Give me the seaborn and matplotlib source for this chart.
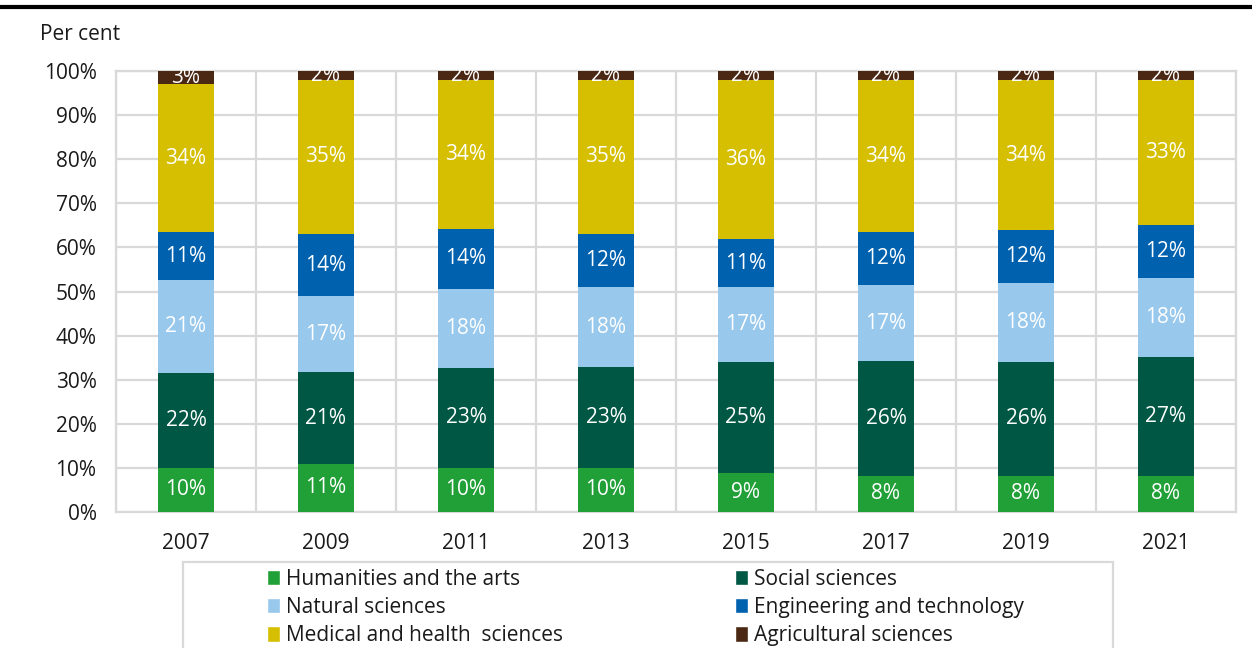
import numpy as np
import pandas as pd
import seaborn as sns
import matplotlib.pyplot as plt
from matplotlib.lines import Line2D
from matplotlib.patches import Rectangle, Patch

years = ["2007", "2009", "2011", "2013", "2015", "2017", "2019", "2021"]

fields = [
    "Humanities and the arts",
    "Social sciences",
    "Natural sciences",
    "Engineering and technology",
    "Medical and health  sciences",
    "Agricultural sciences",
]

# shares in per cent
humanities = [10.0, 10.9, 10.0, 10.0, 8.8, 8.2, 8.2, 8.2]
social = [21.6, 20.8, 22.7, 22.9, 25.2, 26.0, 25.8, 26.9]
natural = [20.9, 17.3, 17.9, 18.1, 17.0, 17.3, 17.9, 18.0]
engineering = [10.9, 14.0, 13.6, 12.0, 10.9, 12.0, 12.0, 12.0]
medical = [33.6, 35.0, 33.8, 35.0, 36.1, 34.4, 34.1, 32.9]
agricultural = [3.0, 2.0, 2.0, 2.0, 2.0, 2.1, 2.0, 2.0]

colors = ["#21a038", "#005743", "#98c8ec", "#0061af", "#d6bf00", "#4a2814"]

series = [humanities, social, natural, engineering, medical, agricultural]

sns.set_style("white")
plt.rcParams["font.family"] = ["Open Sans", "DejaVu Sans"]
text_col = "#1a1a1a"
grid_col = "#d9d9d9"
fs = 15

fig = plt.figure(figsize=(12.52, 6.48), dpi=100)
ax = fig.add_axes([116 / 1252, 1 - 512 / 648, (1236 - 116) / 1252, (512 - 71) / 648])

bottom = np.zeros(len(years))
for name, vals, col in zip(fields, series, colors):
    vals = np.array(vals) / 100
    sns.barplot(x=years, y=vals, bottom=bottom, color=col, width=0.4,
                saturation=1, ax=ax, zorder=3, linewidth=0)
    for i, v in enumerate(vals):
        ax.text(i, bottom[i] + v / 2, f"{round(v * 100)}%", ha="center", va="center",
                color="white", fontsize=fs, zorder=4)
    bottom += vals

ax.set_ylim(0, 1)
ax.set_xlim(-0.5, len(years) - 0.5)
ax.set_yticks(np.arange(0, 1.01, 0.1))
ax.set_yticklabels([f"{int(t * 100)}%" for t in np.arange(0, 1.01, 0.1)])
ax.set_xticks(np.arange(-0.5, len(years), 1), minor=True)
ax.grid(axis="y", which="major", color=grid_col, linewidth=1.6, zorder=0)
ax.grid(axis="x", which="minor", color=grid_col, linewidth=1.6, zorder=0)
ax.grid(axis="x", which="major", visible=False)
ax.tick_params(axis="both", which="both", length=0, labelsize=fs, colors=text_col)
ax.tick_params(axis="y", pad=14)
ax.tick_params(axis="x", pad=15)
for s in ax.spines.values():
    s.set_color(grid_col)
    s.set_linewidth(1.6)
ax.set_xlabel("")
ax.set_ylabel("")

# top rule and unit label
fig.add_artist(Line2D([0, 1], [1 - 7 / 648, 1 - 7 / 648], color="black", linewidth=3))
fig.text(40 / 1252, 1 - 35 / 648, "Per cent", fontsize=fs, color=text_col, va="center")

# legend box
fig.add_artist(Rectangle((183 / 1252, -0.01), (1113 - 183) / 1252, (1 - 562 / 648) + 0.01,
                         transform=fig.transFigure, facecolor="white",
                         edgecolor=grid_col, linewidth=1.6))
handles = [Patch(facecolor=c, label=f) for f, c in zip(fields, colors)]
for hs, x0 in [([handles[0], handles[2], handles[4]], 252), ([handles[1], handles[3], handles[5]], 720)]:
    fig.legend(handles=hs, loc="upper left", bbox_to_anchor=(x0 / 1252, 1 - 554 / 648),
               frameon=False, fontsize=fs, handlelength=0.65, handleheight=0.75,
               handletextpad=0.3, labelspacing=0.35, borderpad=0.2, labelcolor=text_col)

fig.savefig("out.png", dpi=100)
